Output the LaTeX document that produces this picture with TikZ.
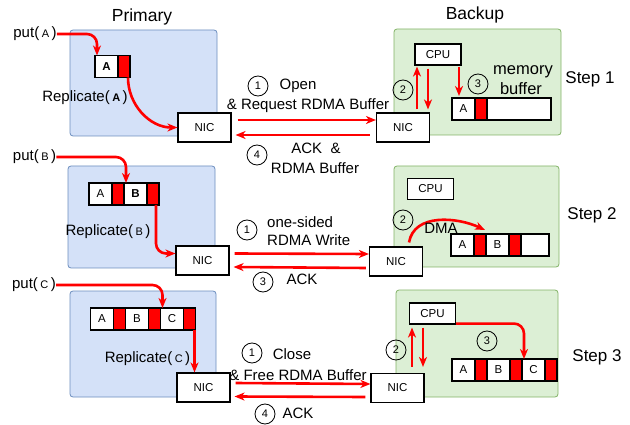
\documentclass[tikz,border=0pt]{standalone}
\usepackage{fontspec}
\setmainfont{Liberation Sans}
\usetikzlibrary{arrows.meta,positioning}

\definecolor{priFill}{HTML}{D4E1F8}
\definecolor{priLine}{HTML}{6C8EBF}
\definecolor{bakFill}{HTML}{DCEFD5}
\definecolor{bakLine}{HTML}{82B366}

\newcommand{\fsTitle}{\fontsize{17.5}{20}\selectfont}
\newcommand{\fsStep}{\fontsize{17}{20}\selectfont}
\newcommand{\fsLabel}{\fontsize{15}{18}\selectfont}
\newcommand{\fsMem}{\fontsize{16.5}{19}\selectfont}
\newcommand{\fsHw}{\fontsize{11.5}{13}\selectfont}
\newcommand{\fsNum}{\fontsize{11}{13}\selectfont}
\newcommand{\fsArg}{\fontsize{11}{13}\selectfont}

\tikzset{
  pribox/.style={draw=priLine, fill=priFill, rounded corners=3pt, line width=0.8pt},
  bakbox/.style={draw=bakLine, fill=bakFill, rounded corners=3pt, line width=0.8pt},
  hw/.style={draw, fill=white, line width=1.1pt, minimum width=53pt, minimum height=29pt, inner sep=0pt, font=\fsHw},
  cpu/.style={hw, minimum width=46pt, minimum height=21pt},
  cell/.style={draw, fill=white, line width=1.1pt, minimum width=23pt, minimum height=22pt, inner sep=0pt, outer sep=0pt, font=\fsHw},
  redcell/.style={cell, fill=red, minimum width=12pt},
  num/.style={circle, draw, line width=0.8pt, minimum size=20pt, inner sep=0pt, font=\fsNum},
  flow/.style={red, line width=2.6pt, -{Stealth[length=10pt,width=8pt,inset=3pt]}},
  txt/.style={inner sep=0pt, font=\fsLabel},
}

\begin{document}
\begin{tikzpicture}[x=1pt, y=-1pt]
    \useasboundingbox (0,0) rectangle (630,425);

    \node[txt, font=\fsTitle] (priT) at (142,17) {Primary};
    \node[txt, font=\fsTitle] (bakT) at (475,15) {Backup};

    \draw[pribox] (70,30) rectangle (217,136);
    \draw[bakbox] (394,29) rectangle (561,135);
    \draw[pribox] (68,166) rectangle (215,268);
    \draw[bakbox] (394,166) rectangle (559,267);
    \draw[pribox] (70,291) rectangle (216,397);
    \draw[bakbox] (396,290) rectangle (558,397);

    \node[txt] (putA) at (35,34) {put(\,{\fsArg A}\,)};
    \node[cell, font=\fsHw\bfseries] (cA1) at (106.5,66.5) {A};
    \node[redcell, right=0pt of cA1] (rA1) {};
    \node[txt] (repA) at (85,98) {Replicate(\,{\fsArg\bfseries A}\,)};
    \node[hw] (nicP1) at (204.5,127.5) {NIC};
    \node[hw] (nicB1) at (403,127.5) {NIC};
    \node[cpu] (cpu1) at (438,54.5) {CPU};
    \node[cell] (mA1) at (463.5,109) {A};
    \node[redcell, right=0pt of mA1] (mrA1) {};
    \node[cell, right=0pt of mrA1, minimum width=64pt] (mE1) {};

    \draw[flow, rounded corners=10pt] (putA.east) -| ([xshift=2pt]cA1.north west);
    \draw[flow] ([xshift=-2pt]rA1.south east) to[out=-90, in=180] (nicP1.west);
    \draw[flow] ([xshift=6pt, yshift=7.5pt]nicP1.east) -- ([yshift=7.5pt]nicB1.west);
    \draw[flow] ([xshift=-6pt, yshift=-7.5pt]nicB1.west) -- ([xshift=4pt, yshift=-7.5pt]nicP1.east);
    \draw[flow] ([xshift=14pt, yshift=3pt]nicB1.north) -- ([xshift=-21pt, yshift=-1pt]cpu1.south);
    \draw[flow] ([xshift=-10pt, yshift=-3pt]cpu1.south) -- ([xshift=25pt, yshift=3pt]nicB1.north);
    \draw[flow] ([xshift=21pt, yshift=-1pt]cpu1.south) -- ([xshift=-4.5pt, yshift=2pt]mA1.north);

    \node[num] (o11) at (258,86) {1};
    \node[txt] (open) at (298,86) {Open};
    \node[txt] (req) at (308,106) {\& Request RDMA Buffer};
    \node[num] (o14) at (257,155) {4};
    \node[txt] (ack1) at (316,148) {ACK \ \&};
    \node[txt] (buf1) at (315,168) {RDMA Buffer};
    \node[num] (o12) at (403,90) {2};
    \node[num] (o13) at (478,84) {3};
    \node[txt, font=\fsMem] (mem) at (523,72) {memory};
    \node[txt, font=\fsMem] (memb) at (521,89) {buffer};
    \node[txt, font=\fsStep] (st1) at (590,79) {Step 1};

    \node[txt] (putB) at (34.5,157) {put(\,{\fsArg B}\,)};
    \node[cell] (cA2) at (100.5,194) {A};
    \node[redcell, right=0pt of cA2] (rA2) {};
    \node[cell, right=0pt of rA2, font=\fsHw\bfseries] (cB2) {B};
    \node[redcell, right=0pt of cB2] (rB2) {};
    \node[txt] (repB) at (108,232) {Replicate(\,{\fsArg B}\,)};
    \node[hw] (nicP2) at (202.5,260.5) {NIC};
    \node[hw] (nicB2) at (396,261.5) {NIC};
    \node[cpu] (cpu2) at (430.5,189) {CPU};
    \node[cell] (mA2) at (462.5,245) {A};
    \node[redcell, right=0pt of mA2] (mrA2) {};
    \node[cell, right=0pt of mrA2] (mB2) {B};
    \node[redcell, right=0pt of mB2] (mrB2) {};
    \node[cell, right=0pt of mrB2, minimum width=28pt] (mE2) {};

    \draw[flow, rounded corners=10pt] (putB.east) -| ([xshift=2pt]cB2.north west);
    \draw[flow, rounded corners=10pt] ([xshift=-3pt]rB2.south east) |- ([yshift=7pt]nicP2.west);
    \draw[flow] ([xshift=5pt, yshift=7pt]nicP2.east) -- ([yshift=7.5pt]nicB2.west);
    \draw[flow] ([xshift=-3pt, yshift=-6.5pt]nicB2.west) -- ([xshift=4pt, yshift=-6.5pt]nicP2.east);
    \draw[flow] ([xshift=13pt, yshift=4pt]nicB2.north) to[out=80, in=155] ([xshift=-1pt, yshift=4pt]mB2.north west);

    \node[num] (o21) at (247,230) {1};
    \node[txt, anchor=west] (osw) at (267,222) {one-sided};
    \node[txt, anchor=west] (rdw) at (267,240) {RDMA Write};
    \node[num] (o23) at (263,282) {3};
    \node[txt] (ack2) at (302,279) {ACK};
    \node[num] (o22) at (403,220) {2};
    \node[txt] (dma) at (441,228) {DMA};
    \node[txt, font=\fsStep] (st2) at (592,215) {Step 2};

    \node[txt] (putC) at (34,285) {put(\,{\fsArg C}\,)};
    \node[cell] (cA3) at (102,319) {A};
    \node[redcell, right=0pt of cA3] (rA3) {};
    \node[cell, right=0pt of rA3] (cB3) {B};
    \node[redcell, right=0pt of cB3] (rB3) {};
    \node[cell, right=0pt of rB3] (cC3) {C};
    \node[redcell, right=0pt of cC3] (rC3) {};
    \node[txt] (repC) at (147.5,359) {Replicate(\,{\fsArg C}\,)};
    \node[hw] (nicP3) at (203.5,387.5) {NIC};
    \node[hw] (nicB3) at (397.5,388) {NIC};
    \node[cpu] (cpu3) at (432.5,313.5) {CPU};
    \node[cell] (mA3) at (463.5,370) {A};
    \node[redcell, right=0pt of mA3] (mrA3) {};
    \node[cell, right=0pt of mrA3] (mB3) {B};
    \node[redcell, right=0pt of mB3] (mrB3) {};
    \node[cell, right=0pt of mrB3] (mC3) {C};
    \node[redcell, right=0pt of mC3] (mrC3) {};

    \draw[flow, rounded corners=10pt] (putC.east) -| ([xshift=2pt]cC3.north west);
    \draw[flow] ([xshift=-1pt]rC3.south east) -- ([xshift=-9pt]nicP3.north);
    \draw[flow] ([xshift=5pt, yshift=4.5pt]nicP3.east) -- ([yshift=4pt]nicB3.west);
    \draw[flow] ([xshift=-5pt, yshift=-9pt]nicB3.west) -- ([xshift=4pt, yshift=-9pt]nicP3.east);
    \draw[flow] ([xshift=14.5pt, yshift=6pt]nicB3.north) -- ([xshift=-20.5pt, yshift=-3pt]cpu3.south);
    \draw[flow] ([xshift=-9.5pt, yshift=-3pt]cpu3.south) -- ([xshift=25.5pt, yshift=6pt]nicB3.north);
    \draw[flow, rounded corners=10pt] ([yshift=1pt]cpu3.south east) -| ([xshift=-9.5pt]mC3.north);

    \node[num] (o31) at (252,353) {1};
    \node[txt] (close) at (292,354) {Close};
    \node[txt] (free) at (298,375) {\& Free RDMA Buffer};
    \node[num] (o34) at (265,414) {4};
    \node[txt] (ack3) at (298,413) {ACK};
    \node[num] (o32) at (396,350) {2};
    \node[num] (o33) at (487,341) {3};
    \node[txt, font=\fsStep] (st3) at (597,357) {Step 3};

\end{tikzpicture}
\end{document}
